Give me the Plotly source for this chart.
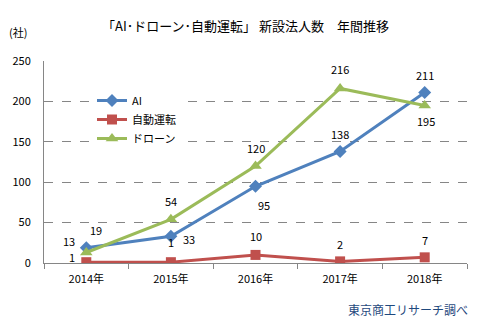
import plotly.graph_objects as go

years = ["2014年", "2015年", "2016年", "2017年", "2018年"]
ai = [19, 33, 95, 138, 211]
auto = [1, 1, 10, 2, 7]
drone = [13, 54, 120, 216, 195]
y_ticks = [0, 50, 100, 150, 200, 250]

FONT = "Noto Sans CJK JP"
colors = {"AI": "#4F81BD", "自動運転": "#C0504D", "ドローン": "#9BBB59"}

L, R, T, B = 44, 13, 61, 59
W, H = 480, 322
pw, ph = W - L - R, H - T - B
def px(x):
    return (x - L) / pw
def py(y):
    return (H - B - y) / ph

fig = go.Figure()
fig.add_trace(go.Scatter(x=years, y=ai, name="AI", mode="lines+markers",
                         line=dict(color=colors["AI"], width=3),
                         marker=dict(symbol="diamond", size=10, color=colors["AI"])))
fig.add_trace(go.Scatter(x=years, y=auto, name="自動運転", mode="lines+markers",
                         line=dict(color=colors["自動運転"], width=3),
                         marker=dict(symbol="square", size=10, color=colors["自動運転"])))
fig.add_trace(go.Scatter(x=years, y=drone, name="ドローン", mode="lines+markers",
                         line=dict(color=colors["ドローン"], width=3),
                         marker=dict(symbol="triangle-up", size=11, color=colors["ドローン"])))

# label offsets (pixels)
ai_off = [(10, 18), (18, -3), (8, -19), (0, 18), (0, 18)]
auto_off = [(-14, 5), (0, 20), (0, 19), (0, 17), (0, 17)]
drone_off = [(-17, 12), (0, 18), (0, 18), (0, 19), (1, -16)]

for vals, offs in ((ai, ai_off), (auto, auto_off), (drone, drone_off)):
    for x, v, (dx, dy) in zip(years, vals, offs):
        fig.add_annotation(x=x, y=v, text=str(v), showarrow=False, xshift=dx, yshift=dy,
                           font=dict(size=11, color="black", family=FONT))

fig.add_annotation(x=px(245), y=py(25), xref="paper", yref="paper",
                   text="「AI･ドローン･自動運転」 新設法人数　年間推移",
                   showarrow=False, xanchor="center", yanchor="middle",
                   font=dict(size=13, color="black", family=FONT))
fig.add_annotation(x=px(18), y=py(32), xref="paper", yref="paper", text="(社)", showarrow=False,
                   xanchor="center", yanchor="middle",
                   font=dict(size=11, color="black", family=FONT))
fig.add_annotation(x=px(470), y=py(309), xref="paper", yref="paper", text="東京商工リサーチ調べ",
                   showarrow=False, xanchor="right", yanchor="middle",
                   font=dict(size=12, color="#1F497D", family=FONT))

fig.update_layout(
    width=W, height=H,
    margin=dict(l=L, r=R, t=T, b=B),
    paper_bgcolor="white", plot_bgcolor="white",
    font=dict(family=FONT, size=11, color="black"),
    showlegend=True,
    legend=dict(x=px(92), y=py(86), xanchor="left", yanchor="top",
                bgcolor="white", font=dict(size=11, family=FONT),
                tracegroupgap=0, itemwidth=30),
    xaxis=dict(type="category", range=[-0.5, 4.5], showgrid=False,
               showline=True, linecolor="#868686", linewidth=1,
               ticks="outside", tickson="boundaries", ticklen=5, tickcolor="#868686",
               ticklabelstandoff=6,
               tickfont=dict(size=11, family=FONT)),
    yaxis=dict(range=[0, 250], tickvals=y_ticks, showgrid=True, gridcolor="#868686",
               griddash="dash", gridwidth=1, showline=True, linecolor="#868686",
               zeroline=False, ticks="", ticklabelstandoff=10,
               tickfont=dict(size=11, family=FONT)),
)

fig.write_html("out.html")
